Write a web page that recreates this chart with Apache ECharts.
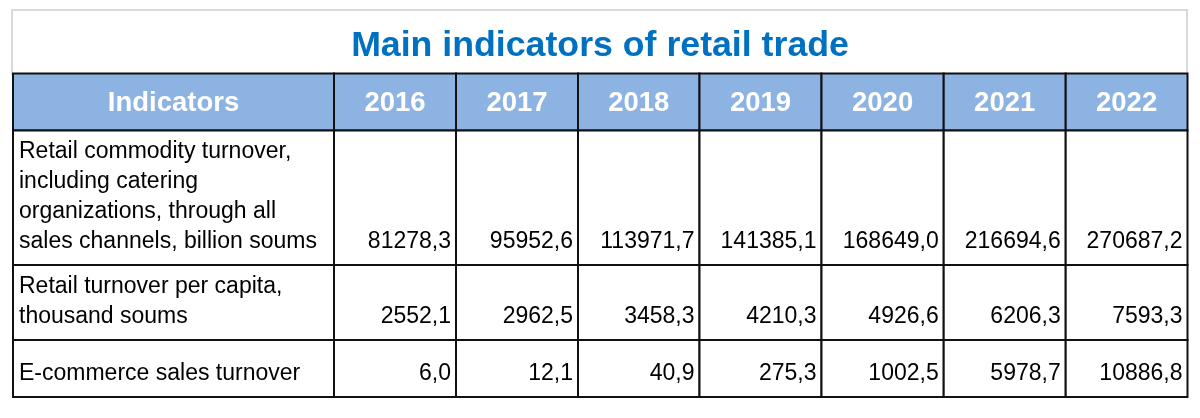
<!DOCTYPE html>
<html>
<head>
<meta charset="utf-8">
<title>Main indicators of retail trade</title>
<script src="https://cdn.jsdelivr.net/npm/echarts@6/dist/echarts.min.js"></script>
<style>
  html, body { margin: 0; padding: 0; background: #fff; }
  #chart { width: 1200px; height: 418px; }
</style>
</head>
<body>
<div id="chart"></div>
<script>
// table data
const titleText = 'Main indicators of retail trade';
const headerLabel = 'Indicators';
const years = ['2016', '2017', '2018', '2019', '2020', '2021', '2022'];
const indicators = [
  'Retail commodity turnover,\nincluding catering\norganizations, through all\nsales channels, billion soums',
  'Retail turnover per capita,\nthousand soums',
  'E-commerce sales turnover'
];
const retailTurnover = [81278.3, 95952.6, 113971.7, 141385.1, 168649.0, 216694.6, 270687.2];
const perCapita = [2552.1, 2962.5, 3458.3, 4210.3, 4926.6, 6206.3, 7593.3];
const ecommerce = [6.0, 12.1, 40.9, 275.3, 1002.5, 5978.7, 10886.8];

// layout (axis units = px inside the grid)
const colEdges = [0, 321, 443, 565, 686.5, 808.5, 930.7, 1052.7, 1174.5];
const rowEdges = [0, 57, 191.5, 266.5, 323.5];
const font = '"Liberation Sans", Arial, sans-serif';

const fmt = v => v.toFixed(1).replace('.', ',');

// cells: [col, row, text]
let cells = [[0, 0, headerLabel]];
years.forEach((y, i) => cells.push([i + 1, 0, y]));
[retailTurnover, perCapita, ecommerce].forEach((vals, r) => {
  cells.push([0, r + 1, indicators[r]]);
  vals.forEach((v, i) => cells.push([i + 1, r + 1, fmt(v)]));
});

function renderCell(params, api) {
  let col = api.value(0), row = api.value(1);
  let text = cells[params.dataIndex][2];
  let p0 = api.coord([colEdges[col], rowEdges[row]]);
  let p1 = api.coord([colEdges[col + 1], rowEdges[row + 1]]);
  let x = p0[0], y = p0[1], w = p1[0] - p0[0], h = p1[1] - p0[1];
  let header = row === 0;
  let txt;
  if (header) {
    txt = {
      type: 'text',
      style: {
        text: text, x: x + w / 2, y: y + h / 2 + 1,
        align: 'center', verticalAlign: 'middle',
        fill: '#fff', font: 'bold 27.5px ' + font
      }
    };
  } else {
    txt = {
      type: 'text',
      style: {
        text: text,
        x: col === 0 ? x + 6 : x + w - 5,
        y: y + h - 8.5,
        align: col === 0 ? 'left' : 'right',
        verticalAlign: 'bottom',
        lineHeight: 30,
        fill: '#000', font: '23px ' + font
      }
    };
  }
  return {
    type: 'group',
    children: [
      {
        type: 'rect',
        shape: { x: x, y: y, width: w, height: h },
        style: { fill: header ? '#8db3e2' : '#fff', stroke: '#111', lineWidth: 2 }
      },
      txt
    ]
  };
}

const chart = echarts.init(document.getElementById('chart'));
chart.setOption({
  animation: false,
  backgroundColor: '#fff',
  title: {
    text: titleText,
    left: 'center',
    top: 21,
    textStyle: { color: '#0070c0', fontSize: 35.7, fontWeight: 'bold', fontFamily: font, lineHeight: 40 }
  },
  graphic: [{
    type: 'rect',
    z: -1,
    shape: { x: 12, y: 10, width: 1175, height: 64 },
    style: { fill: '#fff', stroke: '#d9d9d9', lineWidth: 2 }
  }],
  grid: { left: 13, right: 12.5, top: 73.5, bottom: 21 },
  xAxis: { type: 'value', min: 0, max: colEdges[colEdges.length - 1], show: false },
  yAxis: { type: 'value', min: 0, max: rowEdges[rowEdges.length - 1], inverse: true, show: false },
  series: [{
    type: 'custom',
    renderItem: renderCell,
    data: cells.map(c => [c[0], c[1]]),
    clip: false
  }]
});
</script>
</body>
</html>
